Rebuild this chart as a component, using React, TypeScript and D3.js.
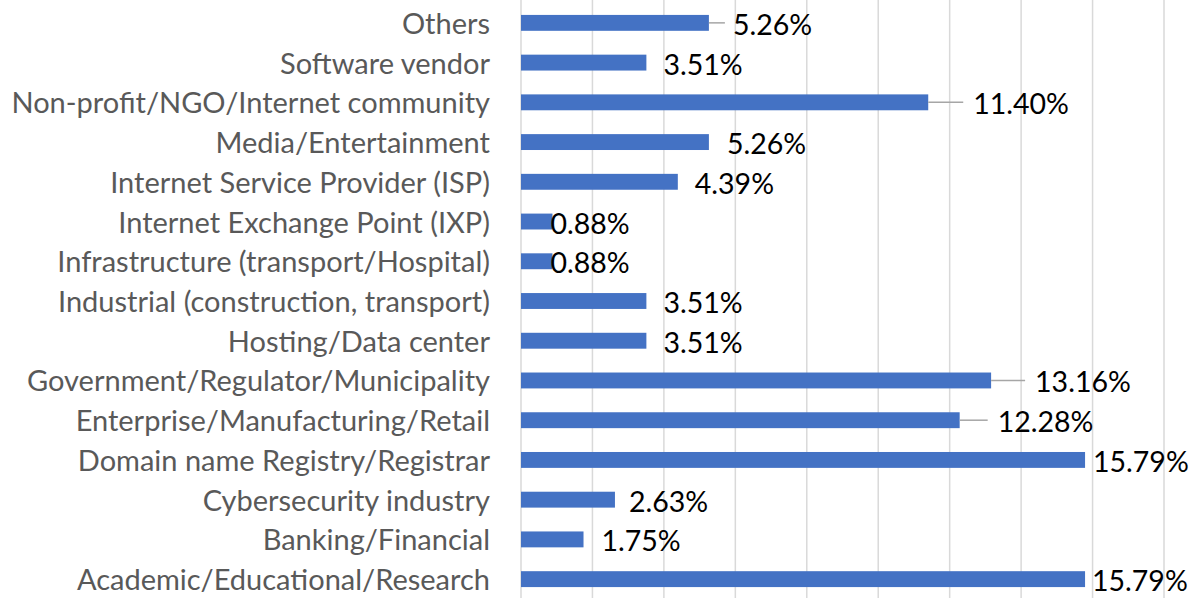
import React from "react";
import * as d3 from "d3";

const categories = [
  "Academic/Educational/Research",
  "Banking/Financial",
  "Cybersecurity industry",
  "Domain name Registry/Registrar",
  "Enterprise/Manufacturing/Retail",
  "Government/Regulator/Municipality",
  "Hosting/Data center",
  "Industrial (construction, transport)",
  "Infrastructure (transport/Hospital)",
  "Internet Exchange Point (IXP)",
  "Internet Service Provider (ISP)",
  "Media/Entertainment",
  "Non-profit/NGO/Internet community",
  "Software vendor",
  "Others",
];
const values = [15.79, 1.75, 2.63, 15.79, 12.28, 13.16, 3.51, 3.51, 0.88, 0.88, 4.39, 5.26, 11.4, 3.51, 5.26];
const valueLabels = ["15.79%", "1.75%", "2.63%", "15.79%", "12.28%", "13.16%", "3.51%", "3.51%", "0.88%", "0.88%", "4.39%", "5.26%", "11.40%", "3.51%", "5.26%"];
const xTicks = [0, 2, 4, 6, 8, 10, 12, 14, 16, 18];

// label layout (Excel manually moved labels): gap from bar end, and leader line length
const labelGap = [7, 18, 14, 8, 38, 44, 17, 17, -2, -2, 17, 18, 45, 17, 24];
const leaderLen = [0, 0, 0, 0, 28, 34, 0, 0, 0, 0, 0, 0, 35, 0, 16];

const W = 1196;
const H = 598;
const FONT = "Lato, 'Open Sans', sans-serif";

export default function App() {
  const x = d3.scaleLinear().domain([0, 18]).range([521, 1164]);
  const y = d3
    .scaleBand<string>()
    .domain([...categories].reverse())
    .range([3, 599])
    .paddingInner(0.6)
    .paddingOuter(0.3);
  const bw = y.bandwidth();

  return (
    <div style={{ position: "fixed", left: 0, top: 0, width: W, height: H, background: "#fff" }}>
      <svg width={W} height={H} style={{ display: "block" }}>
        <rect x={0} y={0} width={W} height={H} fill="#fff" />
        {xTicks.map((t) => (
          <line key={t} x1={x(t)} x2={x(t)} y1={0} y2={H} stroke="#d9d9d9" strokeWidth={1.5} />
        ))}
        {categories.map((c, i) => {
          const yc = (y(c) as number) + bw / 2;
          const xe = x(values[i]);
          return (
            <g key={c}>
              <rect x={x(0)} y={y(c)} width={xe - x(0)} height={bw} fill="#4472c4" />
              {leaderLen[i] > 0 && (
                <line x1={xe} x2={xe + leaderLen[i]} y1={yc} y2={yc} stroke="#a6a6a6" strokeWidth={1.5} />
              )}
              <text
                x={xe + labelGap[i]}
                y={yc + 1}
                dominantBaseline="central"
                fontFamily={FONT}
                fontSize={28.5}
                fill="#000"
              >
                {valueLabels[i]}
              </text>
              <text
                x={490}
                y={yc - 0.5}
                textAnchor="end"
                dominantBaseline="central"
                fontFamily={FONT}
                fontSize={29}
                fill="#595959"
              >
                {c}
              </text>
            </g>
          );
        })}
      </svg>
    </div>
  );
}
